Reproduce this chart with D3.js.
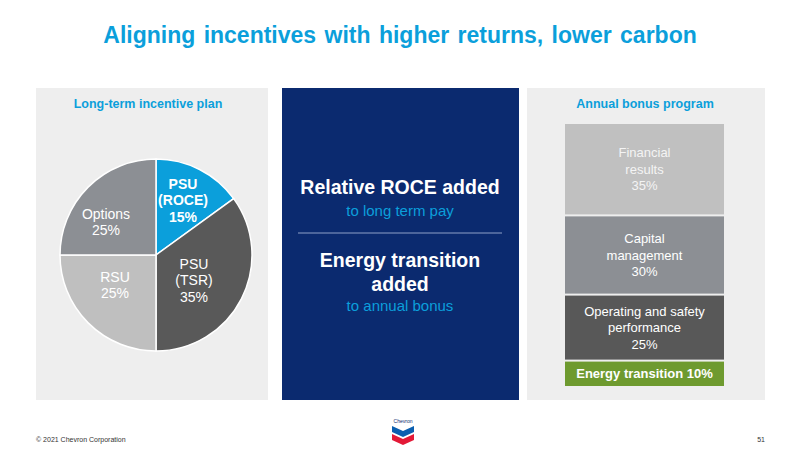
<!DOCTYPE html>
<html><head><meta charset="utf-8">
<script src="https://cdn.jsdelivr.net/npm/d3@7"></script>
<style>body{margin:0;background:#fff}svg{font-family:Arial,"Liberation Sans",sans-serif}</style>
</head><body><div id="chart"></div>
<script>
// Long-term incentive plan
const pieLabels = [["PSU", "(ROCE)", "15%"], ["PSU", "(TSR)", "35%"], ["RSU", "25%"], ["Options", "25%"]];
const pieValues = [15, 35, 25, 25];
const pieColors = ["#0b9fdb", "#595959", "#bfbfbf", "#8c8f94"];
const pieBold = [true, false, false, false];

// Annual bonus program (top to bottom)
const bonusLabels = [["Financial", "results", "35%"], ["Capital", "management", "30%"], ["Operating and safety", "performance", "25%"], ["Energy transition 10%"]];
const bonusValues = [35, 30, 25, 10];
const bonusColors = ["#c0c0c0", "#8c8f94", "#585858", "#6e9a2f"];

const width = 800, height = 450;
const blue = "#0b9fdb";

const svg = d3.select("#chart").append("svg")
  .attr("width", width).attr("height", height);

svg.append("text").attr("x", 400).attr("y", 43).attr("text-anchor", "middle")
  .attr("fill", blue).attr("font-size", 23).attr("font-weight", "bold")
  .attr("word-spacing", 2).text("Aligning incentives with higher returns, lower carbon");

// Panels
svg.append("rect").attr("x", 36).attr("y", 88).attr("width", 232).attr("height", 312).attr("fill", "#eeeeee");
svg.append("rect").attr("x", 282).attr("y", 88).attr("width", 237).attr("height", 312).attr("fill", "#0b2a6f");
svg.append("rect").attr("x", 527).attr("y", 88).attr("width", 238).attr("height", 312).attr("fill", "#eeeeee");

svg.append("text").attr("x", 148).attr("y", 108).attr("text-anchor", "middle")
  .attr("fill", blue).attr("font-size", 12.5).attr("font-weight", "bold").text("Long-term incentive plan");
svg.append("text").attr("x", 645).attr("y", 108).attr("text-anchor", "middle")
  .attr("fill", blue).attr("font-size", 12.5).attr("font-weight", "bold").text("Annual bonus program");

// Pie
const cx = 156, cy = 255, r = 96;
const pie = d3.pie().sort(null)(pieValues);
const arc = d3.arc().innerRadius(0).outerRadius(r);
const pg = svg.append("g").attr("transform", `translate(${cx},${cy})`);
pg.selectAll("path").data(pie).join("path")
  .attr("d", arc).attr("fill", (d, i) => pieColors[i])
  .attr("stroke", "#fff").attr("stroke-width", 1.5);

const labelPos = [[27, -55], [38, 25], [-41, 30], [-50, -33]];
pie.forEach((d, i) => {
  const lines = pieLabels[i];
  const t = pg.append("text").attr("text-anchor", "middle")
    .attr("fill", "#fff").attr("font-size", 14)
    .attr("font-weight", pieBold[i] ? "bold" : "normal");
  lines.forEach((l, j) => {
    t.append("tspan").attr("x", labelPos[i][0])
      .attr("y", labelPos[i][1] + (j - (lines.length - 1) / 2) * 16.5 + 5).text(l);
  });
});

// Middle panel text
const mid = svg.append("g").attr("fill", "#fff").attr("text-anchor", "middle");
mid.append("text").attr("x", 400).attr("y", 194).attr("font-size", 19.5).attr("font-weight", "bold").text("Relative ROCE added");
mid.append("text").attr("x", 400).attr("y", 216).attr("font-size", 15).attr("fill", blue).text("to long term pay");
svg.append("line").attr("x1", 298).attr("x2", 502).attr("y1", 233).attr("y2", 233).attr("stroke", "#8fa0c8").attr("stroke-width", 1);
mid.append("text").attr("x", 400).attr("y", 267).attr("font-size", 19.5).attr("font-weight", "bold").text("Energy transition");
mid.append("text").attr("x", 400).attr("y", 291).attr("font-size", 19.5).attr("font-weight", "bold").text("added");
mid.append("text").attr("x", 400).attr("y", 311).attr("font-size", 15).attr("fill", blue).text("to annual bonus");

// Stacked bonus bar
const stackTop = 124, stackBottom = 388;
const y = d3.scaleLinear().domain([0, d3.sum(bonusValues)]).range([stackTop, stackBottom]);
const cum = d3.cumsum(bonusValues);
const segs = bonusValues.map((v, i) => ({ v, i, y0: cum[i] - v, y1: cum[i] }));
const bx = 565, bw = 159;
svg.selectAll("rect.seg").data(segs).join("rect").attr("class", "seg")
  .attr("x", bx).attr("width", bw)
  .attr("y", d => y(d.y0)).attr("height", d => y(d.y1) - y(d.y0) - 2)
  .attr("fill", d => bonusColors[d.i]);
segs.forEach(d => {
  const lines = bonusLabels[d.i];
  const mY = (y(d.y0) + y(d.y1) - 2) / 2;
  const last = d.i === 3;
  const t = svg.append("text").attr("text-anchor", "middle")
    .attr("fill", d.i === 0 ? "#f4f4f4" : "#fff")
    .attr("font-size", 13).attr("font-weight", last ? "bold" : "normal");
  lines.forEach((l, j) => {
    t.append("tspan").attr("x", bx + bw / 2)
      .attr("y", mY + (j - (lines.length - 1) / 2) * 16.5 + 4.5).text(l);
  });
});

// Footer
svg.append("text").attr("x", 36).attr("y", 442).attr("font-size", 7).attr("fill", "#333").text("© 2021 Chevron Corporation");
svg.append("text").attr("x", 765).attr("y", 442).attr("font-size", 7).attr("fill", "#333").attr("text-anchor", "end").text("51");

// Chevron logo
const lg = svg.append("g").attr("transform", "translate(403,418)");
lg.append("text").attr("x", 0).attr("y", 5).attr("font-size", 5).attr("text-anchor", "middle").attr("fill", "#0b2a6f").text("Chevron");
lg.append("path").attr("d", "M-11,8 L0,13 L11,8 L11,14 L0,19 L-11,14 Z").attr("fill", "#0b5fb0");
lg.append("path").attr("d", "M-11,16 L0,21 L11,16 L11,22 L0,27 L-11,22 Z").attr("fill", "#e31937");
</script></body></html>
